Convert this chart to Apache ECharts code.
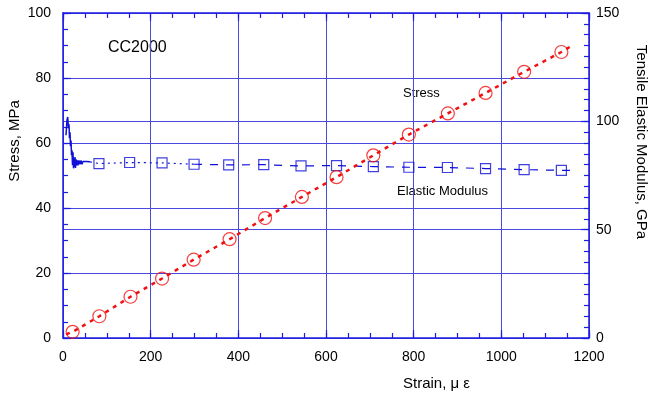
<!DOCTYPE html>
<html>
<head>
<meta charset="utf-8">
<script src="https://cdn.jsdelivr.net/npm/echarts@6/dist/echarts.min.js"></script>
<style>
  html, body { margin: 0; padding: 0; background: #fff; }
  #chart { width: 651px; height: 396px; }
</style>
</head>
<body>
<div id="chart"></div>
<script>
// stress measurements (strain in micro-strain, stress in MPa)
const stressStrain = [22, 83, 154, 226, 298, 380, 461, 545, 624, 708, 789, 878, 964, 1052, 1137];
const stressValues = [1.9, 6.7, 12.7, 18.3, 24.1, 30.4, 36.9, 43.4, 49.5, 56.2, 62.6, 69.1, 75.4, 81.9, 88.0];
// ends of the dashed stress line
const stressLineStrain = [7, 1164];
const stressLineValues = [1.1, 90.2];

// elastic modulus markers (GPa)
const modulusStrain = [82, 152, 226, 299, 378, 458, 543, 624, 708, 789, 877, 964, 1052, 1137];
const modulusValues = [80.5, 81.0, 80.8, 80.2, 79.9, 80.0, 79.4, 79.6, 79.1, 78.8, 78.7, 78.2, 77.7, 77.4];
const modulusEnd = [1174, 77.3];

// noisy start of the modulus record
const initStrain = [6.8, 9.1, 10.7, 12.5, 13.7, 14.8, 16.0, 17.1, 18.3, 19.4, 20.5, 21.7, 22.8, 24.0, 25.1, 26.2,
  27.4, 28.5, 29.7, 31.9, 33.1, 34.2, 36.5, 38.8, 41.1, 43.3, 45.6, 47.9, 52.5, 57.0, 61.6];
const initModulus = [93.6, 100.5, 102.0, 96.8, 98.6, 92.2, 94.9, 88.5, 91.2, 84.3, 86.6, 79.7, 85.7, 78.3, 83.0, 78.9,
  83.5, 78.5, 82.5, 79.7, 82.0, 79.7, 82.0, 80.2, 82.0, 80.2, 81.5, 80.6, 81.5, 80.6, 81.3];

const xTicks = [0, 200, 400, 600, 800, 1000, 1200];
const leftTicks = [0, 20, 40, 60, 80, 100];
const rightTicks = [0, 50, 100, 150];
const xMinorStep = 50;
const leftMinorStep = 5;
const rightMinorStep = 5;

const axisBlue = '#1c1ce0';
const gridBlue = '#4a4ae2';
const red = '#f01010';
const font = '"Liberation Sans", Arial, sans-serif';

const zip = (a, b) => a.map((v, i) => [v, b[i]]);

const stressLine = [[stressLineStrain[0], stressLineValues[0]]]
  .concat(zip(stressStrain, stressValues))
  .concat([[stressLineStrain[1], stressLineValues[1]]]);

const initPts = zip(initStrain, initModulus);
const modPts = zip(modulusStrain, modulusValues);
const splitAt = 3; // dash pattern gets longer after the 4th marker
const modLineA = [initPts[initPts.length - 1]].concat(modPts.slice(0, splitAt + 1));
const modLineB = modPts.slice(splitAt).concat([modulusEnd]);

const chart = echarts.init(document.getElementById('chart'), null, { renderer: 'canvas' });

const label = { fontSize: 14, color: '#000', fontFamily: font, formatter: (v) => String(v) };

// main axis: line, labels, grid, long inward ticks
function mainAxis(position, ticks, extra) {
  return Object.assign({
    type: 'value',
    position: position,
    min: ticks[0],
    max: ticks[ticks.length - 1],
    interval: ticks[1] - ticks[0],
    axisLine: { show: true, onZero: false, lineStyle: { color: axisBlue, width: 1.5 } },
    axisTick: { show: true, inside: true, length: 8, lineStyle: { color: axisBlue, width: 1.2 } },
    splitLine: { show: true, lineStyle: { color: gridBlue, width: 1 } },
  }, extra);
}

// helper axis: only short inward ticks
function tickAxis(position, ticks, step) {
  return {
    type: 'value',
    position: position,
    min: ticks[0],
    max: ticks[ticks.length - 1],
    interval: step,
    axisLine: { show: false, onZero: false },
    axisTick: { show: true, inside: true, length: 5, lineStyle: { color: axisBlue, width: 1.2 } },
    axisLabel: { show: false },
    splitLine: { show: false },
  };
}

const option = {
  animation: false,
  backgroundColor: '#fff',
  grid: { left: 63, top: 13, width: 526, height: 325 },
  xAxis: [
    mainAxis('bottom', xTicks, { axisLabel: Object.assign({ margin: 12 }, label) }),
    mainAxis('top', xTicks, { axisLabel: { show: false }, splitLine: { show: false } }),
    tickAxis('bottom', xTicks, xMinorStep),
    tickAxis('top', xTicks, xMinorStep),
  ],
  yAxis: [
    mainAxis('left', leftTicks, { axisLabel: Object.assign({ margin: 12 }, label) }),
    mainAxis('right', rightTicks, { axisLabel: Object.assign({ margin: 7 }, label) }),
    tickAxis('left', leftTicks, leftMinorStep),
    tickAxis('right', rightTicks, rightMinorStep),
  ],
  series: [
    {
      name: 'modulus-start',
      type: 'line',
      yAxisIndex: 1,
      data: initPts,
      showSymbol: false,
      lineStyle: { color: '#1010d8', width: 1.5 },
      z: 3,
    },
    {
      name: 'modulus-a',
      type: 'line',
      yAxisIndex: 1,
      data: modLineA,
      showSymbol: false,
      lineStyle: { color: '#1010d8', width: 1.2, type: [2, 4] },
      z: 3,
    },
    {
      name: 'modulus-b',
      type: 'line',
      yAxisIndex: 1,
      data: modLineB,
      showSymbol: false,
      lineStyle: { color: '#1010d8', width: 1.2, type: [8, 8] },
      z: 3,
    },
    {
      name: 'Elastic Modulus',
      type: 'scatter',
      yAxisIndex: 1,
      data: modPts,
      symbol: 'rect',
      symbolSize: 10,
      itemStyle: { color: 'rgba(0,0,0,0)', borderColor: '#1010d8', borderWidth: 1.2 },
      z: 4,
    },
    {
      name: 'stress-line',
      type: 'line',
      data: stressLine,
      showSymbol: false,
      lineStyle: { color: red, width: 2.5, type: [4, 5] },
      z: 5,
    },
    {
      name: 'Stress',
      type: 'scatter',
      data: zip(stressStrain, stressValues),
      symbol: 'circle',
      symbolSize: 13,
      itemStyle: { color: 'rgba(0,0,0,0)', borderColor: red, borderWidth: 1.2 },
      z: 6,
    },
  ],
  graphic: [
    { type: 'text', x: 108, y: 48, style: { text: 'CC2000', font: '16px ' + font, fill: '#000', verticalAlign: 'middle' } },
    { type: 'text', x: 403, y: 93, style: { text: 'Stress', font: '13px ' + font, fill: '#000', verticalAlign: 'middle' } },
    { type: 'text', x: 397, y: 191, style: { text: 'Elastic Modulus', font: '13px ' + font, fill: '#000', verticalAlign: 'middle' } },
    { type: 'text', x: 403, y: 384, style: { text: 'Strain, \u03bc \u03b5', font: '15px ' + font, fill: '#000', verticalAlign: 'middle' } },
    {
      type: 'text', x: 15, y: 141, rotation: Math.PI / 2,
      style: { text: 'Stress, MPa', font: '15px ' + font, fill: '#000', align: 'center', verticalAlign: 'middle' },
    },
    {
      type: 'text', x: 641, y: 142, rotation: -Math.PI / 2,
      style: { text: 'Tensile Elastic Modulus, GPa', font: '15px ' + font, fill: '#000', align: 'center', verticalAlign: 'middle' },
    },
  ],
};

chart.setOption(option);
</script>
</body>
</html>
